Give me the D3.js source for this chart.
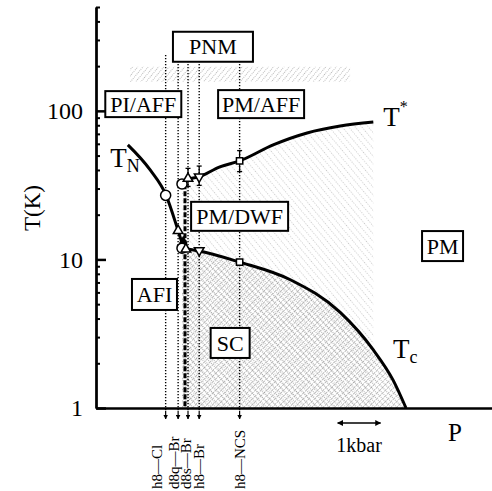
<!DOCTYPE html>
<html>
<head>
<meta charset="utf-8">
<script src="https://cdn.jsdelivr.net/npm/d3@7"></script>
<style>
body { margin: 0; background: #fff; }
</style>
</head>
<body>
<script>
// pressure P in kbar, measured from h8-Cl ; temperature T in K

// phase boundaries
const tnCurve    = [[-0.88, 59], [-0.36, 40], [0.01, 27], [0.29, 15.6], [0.40, 12.4]];
const tstarCurve = [[0.38, 32], [0.52, 34.5], [0.78, 36], [1.26, 42], [1.72, 46], [2.5, 59], [3.29, 71], [4.06, 79], [4.83, 84]];
const tcCurve    = [[0.38, 11.9], [0.78, 11.4], [1.72, 9.6], [2.9, 7.3], [4.06, 4.4], [4.83, 2.46], [5.29, 1.54], [5.59, 1]];
const afiScLine  = [[0.45, 32], [0.45, 1]];

// measured points
const tnPts    = [[0, 27], [0.29, 15.6], [0.41, 12.9]];
const tstarPts = [[0.38, 32.2], [0.52, 35], [0.78, 36], [1.72, 46]];
const tstarErr = [null, [31, 41], [31.5, 42.5], [39, 54]];
const tcPts    = [[0.38, 11.9], [0.47, 11.7], [0.78, 11.5], [1.72, 9.6]];

// salts
const samples  = ["h8—Cl", "d8q—Br", "d8s—Br", "h8—Br", "h8—NCS"];
const sampleP  = [0, 0.29, 0.52, 0.78, 1.72];
const sampleTop = 238;

// PNM crossover band
const pnmP = [-0.83, 4.29];
const pnmT = [157, 198];

// phase names
const regionNames = ["PNM", "PI/AFF", "PM/AFF", "PM/DWF", "AFI", "SC", "PM"];
const regionP     = [1.10, -0.52, 2.22, 1.72, -0.26, 1.5, 6.44];
const regionT     = [270, 111, 111, 19.5, 5.81, 2.74, 12.3];

const majorTicks = [1, 10, 100];
const minorTicks = [2, 3, 4, 5, 6, 7, 8, 9, 20, 30, 40, 50, 60, 70, 80, 90, 200, 300, 400, 500];

const width = 492, height = 491;
const x0 = 96, y0 = 408;
const serif = '"Liberation Serif"';

const x = d3.scaleLinear([-1.62, 7.59], [x0, width]);
const y = d3.scaleLog([1, 500], [y0, 7]);

const svg = d3.create("svg")
    .attr("width", width)
    .attr("height", height)
    .attr("viewBox", [0, 0, width, height]);

// hatch patterns
const defs = svg.append("defs");
function hatch(id, gap, angle, color, dash, sw) {
    defs.append("pattern")
        .attr("id", id)
        .attr("patternUnits", "userSpaceOnUse")
        .attr("width", gap).attr("height", gap)
        .attr("patternTransform", `rotate(${angle})`)
      .append("line")
        .attr("x1", 0).attr("y1", 0).attr("x2", 0).attr("y2", gap)
        .attr("stroke", color)
        .attr("stroke-width", sw)
        .attr("stroke-dasharray", dash);
}
hatch("pnm", 4, 40, "#777", "1,1", 1);
hatch("pg", 5, -40, "#888", "1,1.5", 0.9);
hatch("scA", 4, 45, "#555", "1,1", 0.9);
hatch("scB", 4, -45, "#555", "1,1", 0.9);

defs.append("marker")
    .attr("id", "head")
    .attr("viewBox", "0 0 10 10")
    .attr("refX", 9).attr("refY", 5)
    .attr("markerWidth", 4).attr("markerHeight", 4)
    .attr("orient", "auto-start-reverse")
  .append("path")
    .attr("d", "M0,0L10,5L0,10Z")
    .attr("fill", "#000");

// shaded regions
const area = d3.area()
    .x(d => x(d[0]))
    .y0(y(1))
    .y1(d => y(d[1]))
    .curve(d3.curveMonotoneX);

svg.append("path").attr("d", area(tstarCurve)).attr("fill", "url(#pg)");
svg.append("path").attr("d", area(tcCurve)).attr("fill", "url(#scA)");
svg.append("path").attr("d", area(tcCurve)).attr("fill", "url(#scB)");

svg.append("rect")
    .attr("x", x(pnmP[0]))
    .attr("y", y(pnmT[1]))
    .attr("width", x(pnmP[1]) - x(pnmP[0]))
    .attr("height", y(pnmT[0]) - y(pnmT[1]))
    .attr("fill", "url(#pnm)");

// vertical dotted lines for each salt
svg.append("g")
  .selectAll("line")
  .data(sampleP)
  .join("line")
    .attr("x1", d => x(d)).attr("x2", d => x(d))
    .attr("y1", y(sampleTop)).attr("y2", y0 + 4)
    .attr("stroke", "#000")
    .attr("stroke-width", 1.4)
    .attr("stroke-dasharray", "1.4,1.6");

svg.append("g")
  .selectAll("line")
  .data(sampleP)
  .join("line")
    .attr("x1", d => x(d)).attr("x2", d => x(d))
    .attr("y1", y0 + 3).attr("y2", y0 + 11)
    .attr("stroke", "#000")
    .attr("stroke-width", 1.2)
    .attr("marker-end", "url(#head)");

const labelShift = [-9, -4, -2, 0, 0];
svg.append("g")
  .selectAll("text")
  .data(samples)
  .join("text")
    .attr("transform", (d, i) => `translate(${x(sampleP[i]) + labelShift[i] + 5},489) rotate(-90)`)
    .style("font-family", serif)
    .attr("font-size", 15)
    .text(d => d);

// first-order AFI / SC boundary
const line = d3.line().x(d => x(d[0])).y(d => y(d[1]));
svg.append("path")
    .attr("d", line(afiScLine))
    .attr("fill", "none")
    .attr("stroke", "#000")
    .attr("stroke-width", 3)
    .attr("stroke-dasharray", "5,2");

// boundary curves
const curve = d3.line().x(d => x(d[0])).y(d => y(d[1])).curve(d3.curveMonotoneX);
[tnCurve, tstarCurve, tcCurve].forEach(c => {
    svg.append("path")
        .attr("d", curve(c))
        .attr("fill", "none")
        .attr("stroke", "#000")
        .attr("stroke-width", 3);
});

// error bars on T*
tstarPts.forEach((d, i) => {
    const e = tstarErr[i];
    if (!e) return;
    const g = svg.append("g").attr("stroke", "#000").attr("stroke-width", 1.3);
    g.append("line").attr("x1", x(d[0])).attr("x2", x(d[0])).attr("y1", y(e[0])).attr("y2", y(e[1]));
    g.append("line").attr("x1", x(d[0]) - 2.5).attr("x2", x(d[0]) + 2.5).attr("y1", y(e[0])).attr("y2", y(e[0]));
    g.append("line").attr("x1", x(d[0]) - 2.5).attr("x2", x(d[0]) + 2.5).attr("y1", y(e[1])).attr("y2", y(e[1]));
});

// markers
function marks(pts, shapes) {
    svg.append("g")
      .selectAll("path")
      .data(pts)
      .join("path")
        .attr("transform", (d, i) => `translate(${x(d[0])},${y(d[1])})` + (shapes[i] === "down" ? " rotate(180)" : ""))
        .attr("d", (d, i) => {
            const s = shapes[i];
            if (s === "circle") return d3.symbol(d3.symbolCircle, 80)();
            if (s === "square") return d3.symbol(d3.symbolSquare, 40)();
            if (s === "diamond") return d3.symbol(d3.symbolDiamond, 40)();
            return d3.symbol(d3.symbolTriangle, 40)();
        })
        .attr("fill", (d, i) => shapes[i] === "diamond" ? "#000" : "#fff")
        .attr("stroke", "#000")
        .attr("stroke-width", 1.5);
}
marks(tnPts, ["circle", "up", "diamond"]);
marks(tstarPts, ["circle", "up", "down", "square"]);
marks(tcPts, ["circle", "up", "down", "square"]);

// axes
svg.append("g")
    .attr("transform", `translate(${x0},0)`)
    .call(d3.axisLeft(y).tickValues(minorTicks).tickSizeInner(-4).tickSizeOuter(0).tickFormat(""))
    .call(g => g.selectAll("line, path").attr("stroke-width", 2));

svg.append("g")
    .attr("transform", `translate(${x0},0)`)
    .call(d3.axisLeft(y).tickValues(majorTicks).tickSizeInner(-10).tickSizeOuter(0).tickPadding(13).tickFormat(d3.format("d")))
    .call(g => g.selectAll("line, path").attr("stroke-width", 2.5))
    .call(g => g.selectAll("text")
        .style("font-family", serif)
        .style("font-size", "24px")
        .attr("fill", "#000"));

svg.append("g")
    .attr("transform", `translate(0,${y0})`)
    .call(d3.axisBottom(x).tickValues([]).tickSizeOuter(0))
    .call(g => g.select(".domain").attr("stroke-width", 2.5));

svg.append("text")
    .attr("transform", "translate(40,208) rotate(-90)")
    .attr("text-anchor", "middle")
    .style("font-family", serif)
    .attr("font-size", 23)
    .text("T(K)");

svg.append("text")
    .attr("x", 448).attr("y", 441)
    .style("font-family", serif)
    .attr("font-size", 25)
    .text("P");

// 1 kbar scale
svg.append("line")
    .attr("x1", x(4)).attr("x2", x(5))
    .attr("y1", y0 + 15).attr("y2", y0 + 15)
    .attr("stroke", "#000")
    .attr("stroke-width", 1.5)
    .attr("marker-start", "url(#head)")
    .attr("marker-end", "url(#head)");
svg.append("text")
    .attr("x", x(4.5)).attr("y", 452)
    .attr("text-anchor", "middle")
    .style("font-family", serif)
    .attr("font-size", 20)
    .text("1kbar");

// curve names
function curveName(p, t, sub, sup) {
    const tx = svg.append("text")
        .attr("x", x(p)).attr("y", y(t))
        .style("font-family", serif)
        .attr("font-size", 27);
    tx.append("tspan").text("T");
    if (sub) tx.append("tspan").attr("font-size", 18).attr("dy", 5).text(sub);
    if (sup) tx.append("tspan").attr("font-size", 16).attr("dy", -14).text(sup);
}
curveName(-1.29, 42, "N", null);
curveName(5.06, 79, null, "*");
curveName(5.29, 2.17, "c", null);

// phase boxes
const boxW = [80, 76, 86, 97, 45, 39, 41];
const boxH = [30, 26, 28, 29, 31, 30, 30];
const boxes = svg.append("g")
  .selectAll("g")
  .data(regionNames)
  .join("g")
    .attr("transform", (d, i) => `translate(${x(regionP[i])},${y(regionT[i])})`);
boxes.append("rect")
    .attr("x", (d, i) => -boxW[i] / 2)
    .attr("y", (d, i) => -boxH[i] / 2)
    .attr("width", (d, i) => boxW[i])
    .attr("height", (d, i) => boxH[i])
    .attr("fill", "#fff")
    .attr("stroke", "#000")
    .attr("stroke-width", 2);
boxes.append("text")
    .attr("text-anchor", "middle")
    .attr("dy", "0.35em")
    .style("font-family", serif)
    .attr("font-size", 22)
    .text(d => d);

document.body.appendChild(svg.node());
</script>
</body>
</html>
